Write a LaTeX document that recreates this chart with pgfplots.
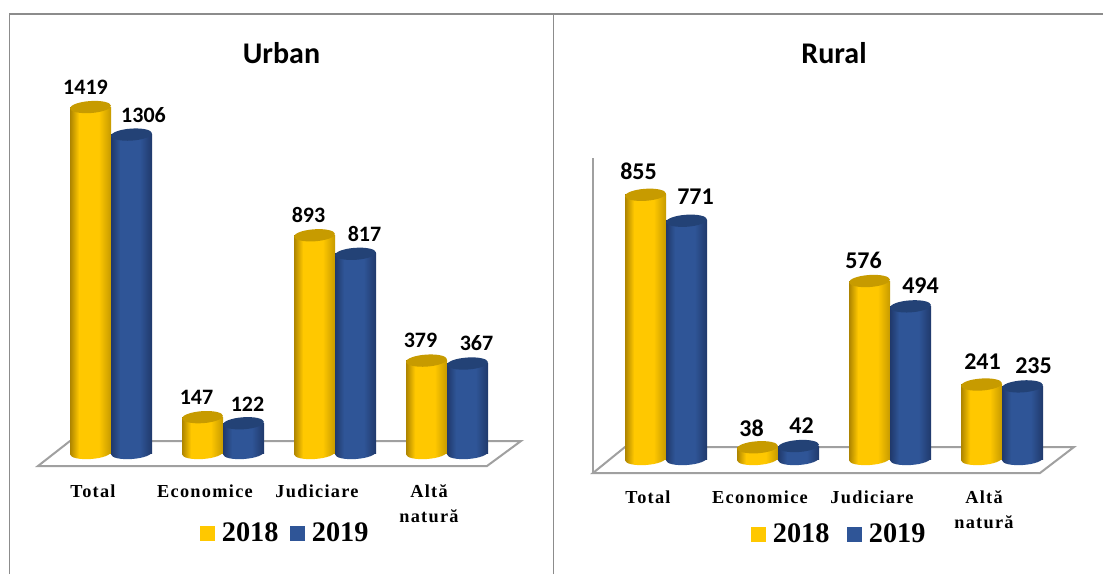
\documentclass[border=0pt]{standalone}
\usepackage{pgfplots}
\usepackage{pgfplotstable}
\usepackage{fontspec}
\pgfplotsset{compat=1.18}
\setmainfont{Liberation Serif}
\newfontfamily\calib{Carlito}
\newfontfamily\catf[LetterSpace=7]{Liberation Serif}
\definecolor{goldM}{HTML}{FFC800}
\definecolor{goldD}{HTML}{AD8400}
\definecolor{goldR}{HTML}{C69A00}
\definecolor{goldT}{HTML}{C79B00}
\definecolor{blueM}{HTML}{2F5597}
\definecolor{blueD}{HTML}{20396B}
\definecolor{blueT}{HTML}{234276}
\definecolor{frameG}{HTML}{8C8C8C}
\definecolor{floorG}{HTML}{A0A0A0}
\pgfdeclarehorizontalshading{cylY}{100bp}{color(0bp)=(goldD); color(25bp)=(goldD); color(36bp)=(goldM); color(60bp)=(goldM); color(75bp)=(goldR); color(100bp)=(goldR)}
\pgfdeclarehorizontalshading{cylB}{100bp}{color(0bp)=(blueD); color(25bp)=(blueD); color(36bp)=(blueM); color(60bp)=(blueM); color(75bp)=(blueD); color(100bp)=(blueD)}
\newcommand\myell{\pgfpathellipse{\pgfpointorigin}{\pgfqpoint{20.45pt}{1.4pt}}{\pgfqpoint{-0.4pt}{6pt}}}
\pgfdeclareplotmark{topY}{\myell\pgfsetfillcolor{goldT}\pgfusepath{fill}}
\pgfdeclareplotmark{topB}{\myell\pgfsetfillcolor{blueT}\pgfusepath{fill}}
\pgfdeclareplotmark{botY}{\myell\pgfshadepath{cylY}{0}\pgfusepath{discard}}
\pgfdeclareplotmark{botB}{\myell\pgfshadepath{cylB}{0}\pgfusepath{discard}}
\pgfplotstableread{
i a b
0 1419 1306
1 147 122
2 893 817
3 379 367
}\urban
\pgfplotstableread{
i a b
0 855 771
1 38 42
2 576 494
3 241 235
}\rural
\pgfplotsset{cyl/.style={
  x=112pt,xmin=0,xmax=3,ymin=0,
  clip=false,anchor=origin,
  axis line style={draw=none},
  major tick length=0pt,
  ytick=\empty,xtick={0,1,2,3},
  xticklabels={Total,Economice,Judiciare,{Altă\\natură}},
  xticklabel style={font=\catf\bfseries\fontsize{18.3}{25}\selectfont,align=center,anchor=north,xshift=-18pt,yshift=-28pt,text=black},
  legend style={draw=none,fill=none,inner sep=0pt,legend columns=2,anchor=center,
    font=\bfseries\fontsize{28.3}{30}\selectfont},
  legend image code/.code={\fill[#1] (-4pt,-7pt) rectangle (10pt,7pt);\path (15pt,0pt);},
}}
\newcommand\cyls[1]{%
  \addplot[only marks,mark=botY,forget plot] table[x expr=\coordindex-0.183,y expr=0] {#1};
  \pgfplotsinvokeforeach{0,1,2,3}{
    \addplot[ybar,bar width=41pt,bar shift=-20.5pt,draw=none,shade,shading=cylY,forget plot,restrict x to domain=##1:##1] table[x=i,y=a] {#1};
  }
  \addplot[only marks,mark=topY,forget plot] table[x expr=\coordindex-0.183,y=a] {#1};
  \addplot[only marks,mark=botB,forget plot] table[x expr=\coordindex+0.183,y expr=0] {#1};
  \pgfplotsinvokeforeach{0,1,2,3}{
    \addplot[ybar,bar width=41pt,bar shift=20.5pt,draw=none,shade,shading=cylB,forget plot,restrict x to domain=##1:##1] table[x=i,y=b] {#1};
  }
  \addplot[only marks,mark=topB,forget plot] table[x expr=\coordindex+0.183,y=b] {#1};
  \addlegendimage{goldM}\addlegendentry{2018}
  \addlegendimage{blueM}\addlegendentry{2019}
}
\newcommand\lbl[4]{\node[font=\calib\bfseries\lblsize,text=black,inner sep=0pt] at (axis cs:#1,#2) [xshift=#3pt,yshift=#4pt] {#2};}
\begin{document}
\begin{tikzpicture}[x=1pt,y=1pt]
\path[use as bounding box,fill=white] (0,0) rectangle (1103,574);
% frame
\draw[frameG,line width=1.3pt] (9.5,0) -- (9.5,560) -- (1103,560);
\draw[frameG,line width=1.3pt] (553.5,0) -- (553.5,560);
% floors
\draw[floorG,line width=2pt,line join=miter] (38,108) -- (487,108) -- (521,133) -- (70,133) -- cycle;
\draw[floorG,line width=2pt,line join=miter] (593,101) -- (1040,101) -- (1074,127) -- (625,127) -- cycle;
\draw[floorG,line width=2pt] (593,101) -- (593,416);
% titles
\node[font=\calib\bfseries\fontsize{30}{32}\selectfont,inner sep=0pt] at (281.5,521) {Urban};
\node[font=\calib\bfseries\fontsize{30}{32}\selectfont,inner sep=0pt] at (834,521) {Rural};
\begin{axis}[cyl,y=0.2438pt,ymax=1419,at={(111pt,121pt)},
  legend style={at={(axis cs:1.558,-328)},/tikz/every even column/.append style={column sep=10pt}}]
  \cyls{\urban}
  \def\lblsize{\fontsize{22}{24}\selectfont}
  \lbl{-0.183}{1419}{-5}{20}
  \lbl{0.183}{1306}{12}{20}
  \lbl{0.817}{147}{-6}{20}
  \lbl{1.183}{122}{4}{19}
  \lbl{1.817}{893}{-6}{20}
  \lbl{2.183}{817}{9}{20}
  \lbl{2.817}{379}{-6}{20}
  \lbl{3.183}{367}{9}{20}
\end{axis}
\begin{axis}[cyl,y=0.309pt,ymax=855,at={(666pt,115pt)},
  legend style={at={(axis cs:1.549,-243)},/tikz/every even column/.append style={column sep=16pt}}]
  \cyls{\rural}
  \def\lblsize{\fontsize{24}{26}\selectfont}
  \lbl{-0.183}{855}{-7}{23}
  \lbl{0.183}{771}{9}{24}
  \lbl{0.817}{38}{-6}{19}
  \lbl{1.183}{42}{3}{20}
  \lbl{1.817}{576}{-6}{21}
  \lbl{2.183}{494}{10}{21}
  \lbl{2.817}{241}{1}{23}
  \lbl{3.183}{235}{11}{21}
\end{axis}
\end{tikzpicture}
\end{document}
